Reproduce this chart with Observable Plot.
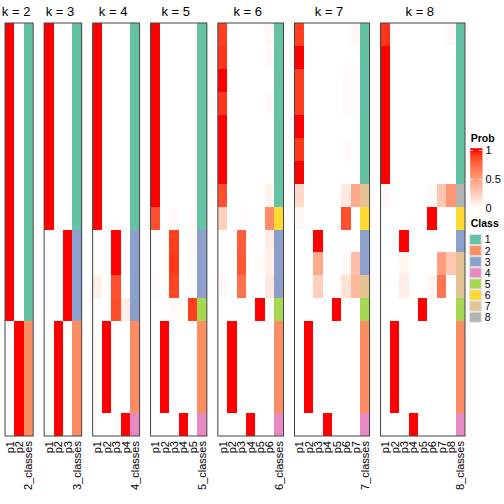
<!DOCTYPE html>
<html><head><meta charset="utf-8">
<script src="https://cdn.jsdelivr.net/npm/d3@7"></script>
<script src="https://cdn.jsdelivr.net/npm/@observablehq/plot@0.6"></script>
<style>
body{margin:0;background:white}
#wrap{position:relative;width:504px;height:504px}
#wrap svg{position:absolute;overflow:visible}
</style>
</head><body><div id="wrap"></div>
<script>
const kValues = [2,3,4,5,6,7,8];

const prob_k2 = [
[1,0],[1,0],[1,0],[1,0],[1,0],[1,0],[1,0],[1,0],[1,0],
[1,0],[1,0],[1,0],[1,0],
[0,1],[0,1],[0,1],[0,1],[0,1]];
const class_k2 = [1,1,1,1,1,1,1,1,1,1,1,1,1,2,2,2,2,2];

const prob_k3 = [
[1,0,0],[1,0,0],[1,0,0],[1,0,0],[1,0,0],[1,0,0],[1,0,0],[1,0,0],[1,0,0],
[0,0,1],[0,0,1],[0,0,1],[0,0,1],
[0,1,0],[0,1,0],[0,1,0],[0,1,0],[0,1,0]];
const class_k3 = [1,1,1,1,1,1,1,1,1,3,3,3,3,2,2,2,2,2];

const prob_k4 = [
[1,0,0,0],[1,0,0,0],[1,0,0,0],[1,0,0,0],[1,0,0,0],[1,0,0,0],[1,0,0,0],[1,0,0,0],[1,0,0,0],
[0,0,1,0],[0,0,1,0],[0.08,0,0.85,0],[0,0,0.86,0.1],
[0,1,0,0],[0,1,0,0],[0,1,0,0],[0,1,0,0],
[0,0,0,1]];
const class_k4 = [1,1,1,1,1,1,1,1,1,3,3,3,3,2,2,2,2,4];

const prob_k5 = [
[1,0,0,0,0],[1,0,0,0,0],[1,0,0,0,0],[1,0,0,0,0],[1,0,0,0,0],[1,0,0,0,0],[1,0,0,0,0],[1,0,0,0,0],
[0.85,0,0.02,0,0.03],
[0,0,0.9,0,0.03],[0,0,0.92,0,0.02],[0.02,0,0.88,0,0.02],
[0,0,0.02,0.02,0.9],
[0,1,0,0,0],[0,1,0,0,0],[0,1,0,0,0],[0,1,0,0,0],
[0,0,0,1,0]];
const class_k5 = [1,1,1,1,1,1,1,1,1,3,3,3,5,2,2,2,2,4];

const prob_k6 = [
[0.9,0,0,0,0,0.04],[0.92,0,0,0,0,0.02],[1,0,0,0,0,0],[0.92,0,0,0,0,0.02],
[1,0,0,0,0,0],[1,0,0,0,0,0],[1,0,0,0,0,0],[0.85,0,0,0,0,0.06],
[0.25,0,0.02,0,0,0.6],
[0,0,0.8,0,0,0.1],[0,0,0.82,0,0.02,0.08],[0.03,0,0.72,0,0,0.12],
[0,0,0,0,1,0],
[0,1,0,0,0,0],[0,1,0,0,0,0],[0,1,0,0,0,0],[0,1,0,0,0,0],
[0,0,0,1,0,0]];
const class_k6 = [1,1,1,1,1,1,1,1,6,3,3,3,5,2,2,2,2,4];

const prob_k7 = [
[0.9,0,0,0,0,0,0.04],[1,0,0,0,0,0,0],[0.9,0,0,0,0,0.02,0.02],[0.9,0,0,0,0,0.02,0.02],
[1,0,0,0,0,0,0],[0.92,0,0,0,0,0.02,0],[1,0,0,0,0,0,0],
[0.2,0,0,0,0,0.12,0.45],
[0.03,0,0,0,0,0.85,0],
[0,0,1,0,0,0,0],[0,0,0.45,0,0,0.03,0.35],
[0,0,0.25,0,0,0.15,0.38],
[0,0,0,0,1,0,0],
[0,1,0,0,0,0,0],[0,1,0,0,0,0,0],[0,1,0,0,0,0,0],[0,1,0,0,0,0,0],
[0,0,0,1,0,0,0]];
const class_k7 = [1,1,1,1,1,1,1,7,6,3,3,7,5,2,2,2,2,4];

const prob_k8 = [
[0.93,0,0,0,0,0,0,0.03],[1,0,0,0,0,0,0,0],[1,0,0,0,0,0,0,0],[1,0,0,0,0,0,0,0],
[1,0,0,0,0,0,0,0],[1,0,0,0,0,0,0,0],[1,0,0,0,0,0,0,0],
[0.03,0,0,0,0,0.03,0.3,0.55],
[0,0,0,0,0,1,0,0],
[0,0,1,0,0,0,0,0],
[0,0,0.05,0,0,0,0.5,0.3],[0,0,0.1,0,0,0.05,0.7,0],
[0,0,0,0,1,0,0,0],
[0,1,0,0,0,0,0,0],[0,1,0,0,0,0,0,0],[0,1,0,0,0,0,0,0],[0,1,0,0,0,0,0,0],
[0,0,0,1,0,0,0,0]];
const class_k8 = [1,1,1,1,1,1,1,8,6,3,7,7,5,2,2,2,2,4];

const classLabels = [1,2,3,4,5,6,7,8];
const classColors = ["#66C2A5","#FC8D62","#8DA0CB","#E78AC3","#A6D854","#FFD92F","#E5C494","#B3B3B3"];
const probTicks = [0, 0.5, 1];

const probSets = [prob_k2,prob_k3,prob_k4,prob_k5,prob_k6,prob_k7,prob_k8];
const classSets = [class_k2,class_k3,class_k4,class_k5,class_k6,class_k7,class_k8];

const gapUnits = 1.17;
const cells = [], classCells = [], panels = [], colLabels = [];
let offset = 0;
kValues.forEach((k, i) => {
  probSets[i].forEach((row, r) => row.forEach((p, j) => cells.push({x1: offset + j, x2: offset + j + 1, row: r, p})));
  classSets[i].forEach((c, r) => classCells.push({x1: offset + k, x2: offset + k + 1, row: r, cls: c}));
  for (let j = 0; j < k; j++) colLabels.push({x: offset + j + 0.5, label: "p" + (j + 1)});
  colLabels.push({x: offset + k + 0.5, label: k + "_classes"});
  panels.push({k, x1: offset, x2: offset + k + 1});
  offset += k + 1 + gapUnits;
});
const total = offset - gapUnits;
const nRows = prob_k2.length;

const font = "'Liberation Sans', Arial, Helvetica, sans-serif";
const colorScale = {type: "linear", domain: [0, 1], range: ["white", "red"], interpolate: d3.interpolateLab};

const main = Plot.plot({
  width: 504, height: 504,
  marginLeft: 5, marginRight: 39, marginTop: 23, marginBottom: 68,
  style: {fontFamily: font, fontSize: "10px", background: "transparent"},
  x: {domain: [0, total], axis: null},
  y: {type: "band", domain: d3.range(nRows), padding: 0, round: false, axis: null},
  color: colorScale,
  marks: [
    Plot.barX(cells, {x1: "x1", x2: "x2", y: "row", fill: "p", shapeRendering: "crispEdges"}),
    ...classColors.map((col, ci) => Plot.barX(classCells.filter(d => d.cls === ci + 1), {x1: "x1", x2: "x2", y: "row", fill: col, shapeRendering: "crispEdges"})),
    Plot.barX(panels, {x1: "x1", x2: "x2", fill: "none", stroke: "#444", strokeWidth: 1}),
    Plot.text(panels, {x: d => (d.x1 + d.x2) / 2 - 0.37, frameAnchor: "top", lineAnchor: "bottom", dy: -7.7, text: d => `k = ${d.k}`, fontSize: 13}),
    Plot.text(colLabels, {x: "x", frameAnchor: "bottom", rotate: -90, textAnchor: "end", lineAnchor: "middle", dy: 4.5, text: "label", fontSize: 11, letterSpacing: 0.8})
  ]
});

const probLegend = Plot.plot({
  width: 44, height: 85,
  marginLeft: 9.7, marginRight: 22, marginTop: 20, marginBottom: 7,
  style: {fontFamily: font, fontSize: "11px", background: "transparent"},
  x: {domain: [0, 1], axis: null},
  y: {domain: [0, 1], axis: null},
  color: colorScale,
  marks: [
    Plot.raster({x1: 0, x2: 1, y1: 0, y2: 1.04, width: 1, height: 120, fill: (x, y) => Math.min(1, y)}),
    Plot.ruleY([0.5, 1], {x1: 0, x2: 0.25, stroke: "white", strokeOpacity: 0.8}),
    Plot.ruleY([0.5, 1], {x1: 0.75, x2: 1, stroke: "white", strokeOpacity: 0.8}),
    Plot.axisY(probTicks, {anchor: "right", tickSize: 0, tickPadding: 3, tickFormat: d => String(d), label: null, fontSize: 11}),
    Plot.text(["Prob"], {frameAnchor: "top-left", textAnchor: "start", lineAnchor: "bottom", dy: -8.5, dx: 0.5, fontWeight: "bold", fontSize: 10.5})
  ]
});

const classLegend = Plot.plot({
  width: 44, height: 115,
  marginLeft: 9.7, marginRight: 22.7, marginTop: 19, marginBottom: 7.3,
  style: {fontFamily: font, fontSize: "10.5px", background: "transparent"},
  x: {domain: [0, 1], axis: null},
  y: {type: "band", domain: classLabels, padding: 0, round: false, axis: null},
  color: {type: "identity"},
  marks: [
    Plot.barX(classLabels, {x1: 0, x2: 1, y: d => d, fill: d => classColors[d - 1], stroke: "#e0e0e0", strokeWidth: 1, insetTop: 0.5, insetBottom: 0.5}),
    Plot.axisY({anchor: "right", tickSize: 0, tickPadding: 3, label: null, fontSize: 10.5}),
    Plot.text(["Class"], {frameAnchor: "top-left", textAnchor: "start", lineAnchor: "bottom", dy: -7.5, dx: 0.5, fontWeight: "bold", fontSize: 10.5})
  ]
});

const wrap = document.getElementById("wrap");
main.style.left = "0px"; main.style.top = "0px";
probLegend.style.left = "460px"; probLegend.style.top = "130px";
classLegend.style.left = "460px"; classLegend.style.top = "215px";
wrap.append(main, probLegend, classLegend);
</script>
</body></html>
